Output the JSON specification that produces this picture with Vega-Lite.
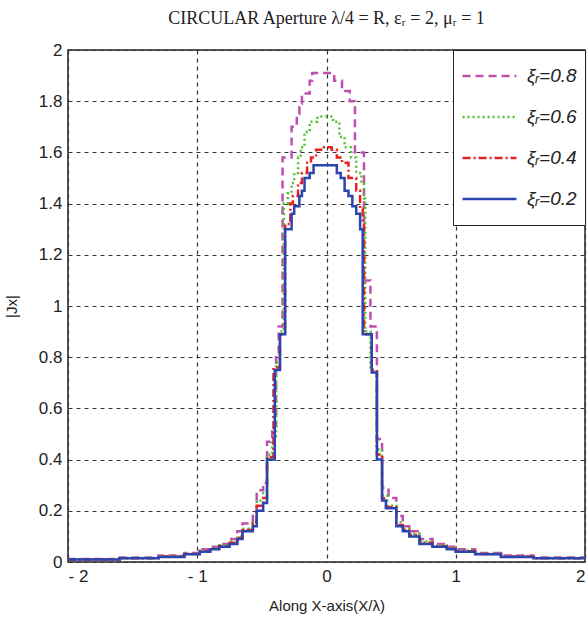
{
  "$schema": "https://vega.github.io/schema/vega-lite/v6.json",
  "autosize": {"type": "none"},
  "padding": {"left": 68, "top": 50, "right": 2, "bottom": 60},
  "width": 517,
  "height": 512,
  "background": "white",
  "title": {
    "text": "CIRCULAR Aperture λ/4 = R,  εᵣ = 2, μᵣ = 1",
    "font": "Liberation Serif",
    "fontSize": 18,
    "fontWeight": "normal",
    "color": "#222",
    "anchor": "middle",
    "offset": 13
  },
  "datasets": {
    "rows": [
      {"s":"ξᵣ=0.8","x":-2,"y":0.012},{"s":"ξᵣ=0.8","x":-1.6,"y":0.018},{"s":"ξᵣ=0.8","x":-1.3,"y":0.025},{"s":"ξᵣ=0.8","x":-1.1,"y":0.035},{"s":"ξᵣ=0.8","x":-0.98,"y":0.05},{"s":"ξᵣ=0.8","x":-0.9,"y":0.06},{"s":"ξᵣ=0.8","x":-0.83,"y":0.07},{"s":"ξᵣ=0.8","x":-0.75,"y":0.09},{"s":"ξᵣ=0.8","x":-0.69,"y":0.12},{"s":"ξᵣ=0.8","x":-0.65,"y":0.15},{"s":"ξᵣ=0.8","x":-0.57,"y":0.19},{"s":"ξᵣ=0.8","x":-0.54,"y":0.28},{"s":"ξᵣ=0.8","x":-0.49,"y":0.31},{"s":"ξᵣ=0.8","x":-0.46,"y":0.47},{"s":"ξᵣ=0.8","x":-0.42,"y":0.53},{"s":"ξᵣ=0.8","x":-0.39,"y":0.8},{"s":"ξᵣ=0.8","x":-0.37,"y":0.92},{"s":"ξᵣ=0.8","x":-0.34,"y":1.58},{"s":"ξᵣ=0.8","x":-0.27,"y":1.7},{"s":"ξᵣ=0.8","x":-0.23,"y":1.75},{"s":"ξᵣ=0.8","x":-0.21,"y":1.79},{"s":"ξᵣ=0.8","x":-0.19,"y":1.83},{"s":"ξᵣ=0.8","x":-0.13,"y":1.88},{"s":"ξᵣ=0.8","x":-0.11,"y":1.91},{"s":"ξᵣ=0.8","x":0.06,"y":1.88},{"s":"ξᵣ=0.8","x":0.12,"y":1.84},{"s":"ξᵣ=0.8","x":0.18,"y":1.8},{"s":"ξᵣ=0.8","x":0.22,"y":1.6},{"s":"ξᵣ=0.8","x":0.29,"y":1.1},{"s":"ξᵣ=0.8","x":0.34,"y":0.92},{"s":"ξᵣ=0.8","x":0.39,"y":0.48},{"s":"ξᵣ=0.8","x":0.43,"y":0.29},{"s":"ξᵣ=0.8","x":0.48,"y":0.25},{"s":"ξᵣ=0.8","x":0.54,"y":0.18},{"s":"ξᵣ=0.8","x":0.59,"y":0.14},{"s":"ξᵣ=0.8","x":0.64,"y":0.12},{"s":"ξᵣ=0.8","x":0.72,"y":0.09},{"s":"ξᵣ=0.8","x":0.82,"y":0.07},{"s":"ξᵣ=0.8","x":0.93,"y":0.06},{"s":"ξᵣ=0.8","x":1.0,"y":0.05},{"s":"ξᵣ=0.8","x":1.15,"y":0.035},{"s":"ξᵣ=0.8","x":1.35,"y":0.025},{"s":"ξᵣ=0.8","x":1.6,"y":0.018},{"s":"ξᵣ=0.8","x":2,"y":0.012},

      {"s":"ξᵣ=0.6","x":-2,"y":0.011},{"s":"ξᵣ=0.6","x":-1.6,"y":0.016},{"s":"ξᵣ=0.6","x":-1.3,"y":0.022},{"s":"ξᵣ=0.6","x":-1.1,"y":0.032},{"s":"ξᵣ=0.6","x":-0.98,"y":0.045},{"s":"ξᵣ=0.6","x":-0.9,"y":0.055},{"s":"ξᵣ=0.6","x":-0.83,"y":0.065},{"s":"ξᵣ=0.6","x":-0.75,"y":0.08},{"s":"ξᵣ=0.6","x":-0.69,"y":0.1},{"s":"ξᵣ=0.6","x":-0.65,"y":0.13},{"s":"ξᵣ=0.6","x":-0.57,"y":0.16},{"s":"ξᵣ=0.6","x":-0.54,"y":0.24},{"s":"ξᵣ=0.6","x":-0.49,"y":0.27},{"s":"ξᵣ=0.6","x":-0.46,"y":0.42},{"s":"ξᵣ=0.6","x":-0.42,"y":0.48},{"s":"ξᵣ=0.6","x":-0.39,"y":0.78},{"s":"ξᵣ=0.6","x":-0.36,"y":0.9},{"s":"ξᵣ=0.6","x":-0.33,"y":1.4},{"s":"ξᵣ=0.6","x":-0.3,"y":1.44},{"s":"ξᵣ=0.6","x":-0.27,"y":1.48},{"s":"ξᵣ=0.6","x":-0.25,"y":1.52},{"s":"ξᵣ=0.6","x":-0.22,"y":1.58},{"s":"ξᵣ=0.6","x":-0.2,"y":1.62},{"s":"ξᵣ=0.6","x":-0.17,"y":1.68},{"s":"ξᵣ=0.6","x":-0.13,"y":1.72},{"s":"ξᵣ=0.6","x":-0.07,"y":1.74},{"s":"ξᵣ=0.6","x":0.05,"y":1.72},{"s":"ξᵣ=0.6","x":0.1,"y":1.66},{"s":"ξᵣ=0.6","x":0.14,"y":1.62},{"s":"ξᵣ=0.6","x":0.19,"y":1.58},{"s":"ξᵣ=0.6","x":0.23,"y":1.52},{"s":"ξᵣ=0.6","x":0.27,"y":1.48},{"s":"ξᵣ=0.6","x":0.29,"y":1.42},{"s":"ξᵣ=0.6","x":0.3,"y":0.9},{"s":"ξᵣ=0.6","x":0.34,"y":0.75},{"s":"ξᵣ=0.6","x":0.39,"y":0.44},{"s":"ξᵣ=0.6","x":0.43,"y":0.26},{"s":"ξᵣ=0.6","x":0.47,"y":0.22},{"s":"ξᵣ=0.6","x":0.54,"y":0.155},{"s":"ξᵣ=0.6","x":0.59,"y":0.13},{"s":"ξᵣ=0.6","x":0.64,"y":0.11},{"s":"ξᵣ=0.6","x":0.72,"y":0.08},{"s":"ξᵣ=0.6","x":0.82,"y":0.065},{"s":"ξᵣ=0.6","x":0.93,"y":0.055},{"s":"ξᵣ=0.6","x":1.0,"y":0.045},{"s":"ξᵣ=0.6","x":1.15,"y":0.032},{"s":"ξᵣ=0.6","x":1.35,"y":0.022},{"s":"ξᵣ=0.6","x":1.6,"y":0.016},{"s":"ξᵣ=0.6","x":2,"y":0.011},

      {"s":"ξᵣ=0.4","x":-2,"y":0.01},{"s":"ξᵣ=0.4","x":-1.6,"y":0.015},{"s":"ξᵣ=0.4","x":-1.3,"y":0.021},{"s":"ξᵣ=0.4","x":-1.1,"y":0.031},{"s":"ξᵣ=0.4","x":-0.98,"y":0.042},{"s":"ξᵣ=0.4","x":-0.9,"y":0.052},{"s":"ξᵣ=0.4","x":-0.83,"y":0.062},{"s":"ξᵣ=0.4","x":-0.75,"y":0.075},{"s":"ξᵣ=0.4","x":-0.69,"y":0.095},{"s":"ξᵣ=0.4","x":-0.65,"y":0.125},{"s":"ξᵣ=0.4","x":-0.57,"y":0.15},{"s":"ξᵣ=0.4","x":-0.54,"y":0.22},{"s":"ξᵣ=0.4","x":-0.49,"y":0.25},{"s":"ξᵣ=0.4","x":-0.46,"y":0.41},{"s":"ξᵣ=0.4","x":-0.41,"y":0.76},{"s":"ξᵣ=0.4","x":-0.36,"y":0.89},{"s":"ξᵣ=0.4","x":-0.32,"y":1.32},{"s":"ξᵣ=0.4","x":-0.28,"y":1.4},{"s":"ξᵣ=0.4","x":-0.26,"y":1.43},{"s":"ξᵣ=0.4","x":-0.22,"y":1.48},{"s":"ξᵣ=0.4","x":-0.19,"y":1.52},{"s":"ξᵣ=0.4","x":-0.15,"y":1.56},{"s":"ξᵣ=0.4","x":-0.12,"y":1.58},{"s":"ξᵣ=0.4","x":-0.08,"y":1.61},{"s":"ξᵣ=0.4","x":-0.02,"y":1.62},{"s":"ξᵣ=0.4","x":0.04,"y":1.61},{"s":"ξᵣ=0.4","x":0.08,"y":1.58},{"s":"ξᵣ=0.4","x":0.12,"y":1.56},{"s":"ξᵣ=0.4","x":0.17,"y":1.5},{"s":"ξᵣ=0.4","x":0.23,"y":1.45},{"s":"ξᵣ=0.4","x":0.26,"y":1.38},{"s":"ξᵣ=0.4","x":0.28,"y":1.33},{"s":"ξᵣ=0.4","x":0.29,"y":0.89},{"s":"ξᵣ=0.4","x":0.35,"y":0.75},{"s":"ξᵣ=0.4","x":0.39,"y":0.42},{"s":"ξᵣ=0.4","x":0.43,"y":0.25},{"s":"ξᵣ=0.4","x":0.46,"y":0.215},{"s":"ξᵣ=0.4","x":0.54,"y":0.145},{"s":"ξᵣ=0.4","x":0.59,"y":0.125},{"s":"ξᵣ=0.4","x":0.64,"y":0.105},{"s":"ξᵣ=0.4","x":0.72,"y":0.075},{"s":"ξᵣ=0.4","x":0.82,"y":0.062},{"s":"ξᵣ=0.4","x":0.93,"y":0.052},{"s":"ξᵣ=0.4","x":1.0,"y":0.042},{"s":"ξᵣ=0.4","x":1.15,"y":0.031},{"s":"ξᵣ=0.4","x":1.35,"y":0.021},{"s":"ξᵣ=0.4","x":1.6,"y":0.015},{"s":"ξᵣ=0.4","x":2,"y":0.01},

      {"s":"ξᵣ=0.2","x":-2,"y":0.01},{"s":"ξᵣ=0.2","x":-1.6,"y":0.015},{"s":"ξᵣ=0.2","x":-1.3,"y":0.02},{"s":"ξᵣ=0.2","x":-1.1,"y":0.03},{"s":"ξᵣ=0.2","x":-0.98,"y":0.04},{"s":"ξᵣ=0.2","x":-0.9,"y":0.05},{"s":"ξᵣ=0.2","x":-0.83,"y":0.06},{"s":"ξᵣ=0.2","x":-0.75,"y":0.07},{"s":"ξᵣ=0.2","x":-0.69,"y":0.09},{"s":"ξᵣ=0.2","x":-0.65,"y":0.12},{"s":"ξᵣ=0.2","x":-0.57,"y":0.14},{"s":"ξᵣ=0.2","x":-0.54,"y":0.2},{"s":"ξᵣ=0.2","x":-0.49,"y":0.23},{"s":"ξᵣ=0.2","x":-0.46,"y":0.4},{"s":"ξᵣ=0.2","x":-0.4,"y":0.75},{"s":"ξᵣ=0.2","x":-0.36,"y":0.89},{"s":"ξᵣ=0.2","x":-0.32,"y":1.3},{"s":"ξᵣ=0.2","x":-0.27,"y":1.36},{"s":"ξᵣ=0.2","x":-0.25,"y":1.39},{"s":"ξᵣ=0.2","x":-0.21,"y":1.43},{"s":"ξᵣ=0.2","x":-0.19,"y":1.45},{"s":"ξᵣ=0.2","x":-0.17,"y":1.5},{"s":"ξᵣ=0.2","x":-0.13,"y":1.52},{"s":"ξᵣ=0.2","x":-0.1,"y":1.55},{"s":"ξᵣ=0.2","x":0.08,"y":1.52},{"s":"ξᵣ=0.2","x":0.11,"y":1.5},{"s":"ξᵣ=0.2","x":0.14,"y":1.45},{"s":"ξᵣ=0.2","x":0.17,"y":1.43},{"s":"ξᵣ=0.2","x":0.2,"y":1.39},{"s":"ξᵣ=0.2","x":0.23,"y":1.36},{"s":"ξᵣ=0.2","x":0.26,"y":1.3},{"s":"ξᵣ=0.2","x":0.28,"y":0.89},{"s":"ξᵣ=0.2","x":0.35,"y":0.74},{"s":"ξᵣ=0.2","x":0.39,"y":0.4},{"s":"ξᵣ=0.2","x":0.43,"y":0.24},{"s":"ξᵣ=0.2","x":0.46,"y":0.21},{"s":"ξᵣ=0.2","x":0.54,"y":0.14},{"s":"ξᵣ=0.2","x":0.59,"y":0.12},{"s":"ξᵣ=0.2","x":0.64,"y":0.1},{"s":"ξᵣ=0.2","x":0.72,"y":0.07},{"s":"ξᵣ=0.2","x":0.82,"y":0.06},{"s":"ξᵣ=0.2","x":0.93,"y":0.05},{"s":"ξᵣ=0.2","x":1.0,"y":0.04},{"s":"ξᵣ=0.2","x":1.15,"y":0.03},{"s":"ξᵣ=0.2","x":1.35,"y":0.02},{"s":"ξᵣ=0.2","x":1.6,"y":0.015},{"s":"ξᵣ=0.2","x":2,"y":0.01}
    ]
  },
  "data": {"name": "rows"},
  "mark": {"type": "line", "interpolate": "step-after", "clip": true},
  "encoding": {
    "x": {
      "field": "x", "type": "quantitative",
      "scale": {"domain": [-2, 2], "nice": false},
      "axis": {"values": [-2, -1, 0, 1, 2], "title": "Along X-axis(X/λ)", "labelExpr": "datum.value < 0 ? '- ' + abs(datum.value) : '' + datum.value"}
    },
    "y": {
      "field": "y", "type": "quantitative",
      "scale": {"domain": [0, 2], "nice": false},
      "axis": {"values": [0, 0.2, 0.4, 0.6, 0.8, 1, 1.2, 1.4, 1.6, 1.8, 2], "title": "|Jx|", "format": "~g"}
    },
    "color": {
      "field": "s", "type": "nominal",
      "scale": {"domain": ["ξᵣ=0.8", "ξᵣ=0.6", "ξᵣ=0.4", "ξᵣ=0.2"], "range": ["#C050B0", "#50C030", "#E82020", "#2A44B0"]},
      "legend": {"title": null}
    },
    "strokeDash": {
      "field": "s", "type": "nominal",
      "scale": {"domain": ["ξᵣ=0.8", "ξᵣ=0.6", "ξᵣ=0.4", "ξᵣ=0.2"], "range": [[8, 5], [2, 3], [8, 3, 2, 3], [1, 0]]},
      "legend": {"title": null}
    },
    "strokeWidth": {
      "field": "s", "type": "nominal",
      "scale": {"domain": ["ξᵣ=0.8", "ξᵣ=0.6", "ξᵣ=0.4", "ξᵣ=0.2"], "range": [2.5, 2.5, 2.5, 3]},
      "legend": {"title": null}
    },
    "order": {"field": "s", "sort": "descending"}
  },
  "config": {
    "view": {"stroke": "#222", "strokeWidth": 1.5},
    "axis": {
      "labelFont": "Liberation Sans Narrow, Liberation Sans",
      "labelFontSize": 17,
      "labelColor": "#222",
      "titleFont": "Liberation Sans Narrow, Liberation Sans",
      "titleFontSize": 15,
      "titleFontWeight": "normal",
      "titleColor": "#222",
      "ticks": false,
      "domain": false,
      "grid": true,
      "gridColor": "#333",
      "gridDash": [4, 4],
      "gridWidth": 1.2,
      "gridOpacity": 1
    },
    "axisX": {"labelPadding": 6, "titlePadding": 14},
    "axisY": {"labelPadding": 6, "titlePadding": 19},
    "legend": {
      "orient": "top-right",
      "offset": 0,
      "fillColor": "white",
      "strokeColor": "#222",
      "padding": 8,
      "symbolType": "stroke",
      "symbolSize": 2900,
      "symbolStrokeWidth": 3,
      "clipHeight": 36,
      "rowPadding": 5,
      "labelFont": "Liberation Sans",
      "labelFontStyle": "italic",
      "labelFontSize": 19,
      "labelColor": "#222",
      "labelOffset": 9
    }
  }
}
